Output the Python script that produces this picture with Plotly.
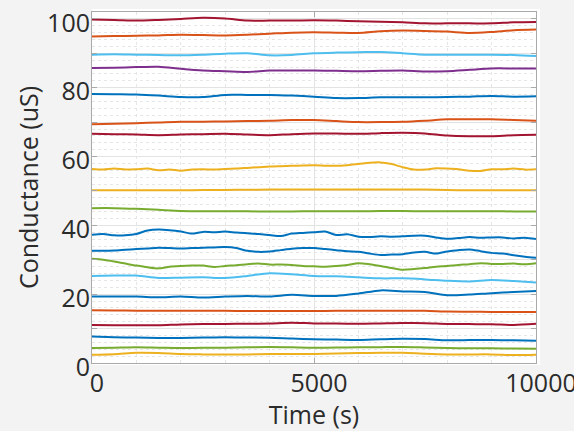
import plotly.graph_objects as go

# Sample times (s)
t500 = [0, 500, 1000, 1500, 2000, 2500, 3000, 3500, 4000, 4500, 5000,
        5500, 6000, 6500, 7000, 7500, 8000, 8500, 9000, 9500, 10000]
t250 = [0, 250, 500, 750, 1000, 1250, 1500, 1750, 2000, 2250, 2500,
        2750, 3000, 3250, 3500, 3750, 4000, 4250, 4500, 4750, 5000,
        5250, 5500, 5750, 6000, 6250, 6500, 6750, 7000, 7250, 7500,
        7750, 8000, 8250, 8500, 8750, 9000, 9250, 9500, 9750, 10000]

# Conductance traces (uS), bottom to top
ch01 = [2.4, 2.55, 2.95, 2.9, 2.6, 2.5, 2.45, 2.5, 2.6, 2.6, 2.6,
        2.75, 2.9, 2.95, 3.0, 2.7, 2.5, 2.5, 2.5, 2.3, 2.4]
ch02 = [4.35, 4.45, 4.55, 4.45, 4.35, 4.4, 4.45, 4.55, 4.65, 4.55, 4.45,
        4.5, 4.55, 4.6, 4.65, 4.5, 4.35, 4.3, 4.27, 4.2, 4.17]
ch03 = [7.7, 7.5, 7.4, 7.3, 7.3, 7.4, 7.45, 7.4, 7.35, 7.1, 6.9,
        6.8, 6.7, 6.9, 7.05, 6.95, 6.6, 6.65, 6.7, 6.6, 6.5]
ch04 = [11.05, 11.0, 10.95, 10.95, 11.2, 11.3, 11.35, 11.4, 11.5, 11.7, 11.5,
        11.45, 11.4, 11.5, 11.6, 11.55, 11.35, 11.3, 11.25, 11.05, 11.4]
ch05 = [15.3, 15.25, 15.2, 15.2, 15.2, 15.15, 15.15, 15.1, 15.1, 15.1, 15.1,
        15.15, 15.15, 15.2, 15.2, 15.2, 14.95, 14.9, 14.85, 14.8, 14.8]
ch06 = [19.3, 19.3, 19.3, 19.1, 19.3, 19.0, 19.3, 19.5, 19.3, 19.8, 19.5,
        19.5, 20.2, 21.1, 20.8, 20.6, 19.7, 19.9, 20.3, 20.6, 20.9]
ch07 = [25.3, 25.4, 25.4, 24.7, 24.8, 24.9, 24.7, 25.3, 26.1, 25.8, 25.3,
        25.2, 24.9, 24.6, 24.6, 24.3, 23.9, 23.7, 24.1, 23.8, 23.4]
ch08 = [30.3, 30.0, 29.5, 28.9, 28.3, 27.8, 27.5, 28.0, 28.2, 28.3, 28.3,
        27.9, 28.2, 28.4, 28.7, 28.9, 28.6, 28.6, 28.5, 28.2, 28.1,
        28.0, 28.2, 28.5, 29.0, 28.7, 28.2, 27.6, 27.1, 27.3, 27.6,
        28.0, 28.2, 28.5, 28.7, 29.0, 28.8, 28.8, 28.9, 28.7, 29.0]
ch09 = [32.6, 32.6, 32.7, 32.9, 33.1, 33.3, 33.5, 33.4, 33.3, 33.4, 33.5,
        33.6, 33.7, 33.4, 32.6, 32.3, 32.4, 32.8, 33.2, 33.4, 33.4,
        33.1, 32.8, 32.5, 32.3, 31.8, 31.4, 31.5, 31.6, 32.1, 32.3,
        31.8, 32.4, 32.8, 33.0, 32.5, 32.0, 31.8, 31.3, 30.9, 30.6]
ch10 = [37.3, 37.5, 37.1, 37.1, 37.5, 38.5, 38.8, 38.6, 38.2, 37.6, 38.1,
        38.0, 38.2, 37.9, 37.7, 37.5, 37.2, 36.9, 37.6, 37.8, 38.0,
        38.2, 37.2, 37.4, 36.7, 36.6, 36.8, 36.7, 36.8, 37.0, 37.0,
        36.5, 36.1, 36.3, 36.6, 36.4, 36.5, 36.5, 36.2, 36.4, 36.0]
ch11 = [45.0, 45.0, 44.8, 44.5, 44.2, 44.1, 44.1, 44.1, 44.0, 44.05, 44.1,
        44.1, 44.1, 44.15, 44.15, 44.1, 44.1, 44.1, 44.1, 44.05, 44.0]
ch12 = [50.2, 50.2, 50.2, 50.2, 50.2, 50.25, 50.3, 50.35, 50.4, 50.4, 50.4,
        50.4, 50.4, 50.4, 50.4, 50.4, 50.25, 50.2, 50.2, 50.2, 50.2]
ch13 = [56.4, 56.2, 56.5, 56.2, 56.3, 56.5, 56.0, 56.2, 55.9, 56.2, 56.3,
        56.2, 56.4, 56.5, 56.7, 56.9, 57.1, 57.2, 57.3, 57.4, 57.45,
        57.35, 57.3, 57.5, 57.8, 58.2, 58.3, 57.8, 56.9, 56.2, 56.2,
        56.6, 56.5, 56.3, 55.9, 55.8, 56.3, 56.3, 56.5, 56.2, 56.3]
ch14 = [66.6, 66.5, 66.4, 66.2, 66.4, 66.5, 66.6, 66.4, 66.2, 66.5, 66.7,
        66.7, 66.6, 66.8, 66.9, 66.7, 66.1, 65.9, 65.9, 66.2, 66.3]
ch15 = [69.4, 69.5, 69.7, 69.9, 70.1, 70.1, 70.2, 70.3, 70.4, 70.6, 70.6,
        70.3, 70.0, 70.0, 70.1, 70.4, 70.8, 70.8, 70.8, 70.6, 70.4]
ch16 = [78.2, 78.1, 78.0, 77.7, 77.3, 77.3, 77.9, 77.9, 77.9, 77.7, 77.4,
        77.0, 77.0, 77.2, 77.2, 77.2, 77.3, 77.4, 77.6, 77.4, 77.5]
ch17 = [85.7, 85.8, 86.0, 86.1, 85.5, 85.0, 84.8, 84.6, 85.0, 85.0, 85.0,
        84.9, 84.8, 84.9, 85.0, 84.7, 84.8, 85.2, 85.6, 85.6, 85.6]
ch18 = [89.6, 89.7, 89.6, 89.5, 89.4, 89.6, 89.9, 90.0, 89.4, 89.5, 90.0,
        90.2, 90.3, 90.4, 90.0, 89.6, 89.6, 89.6, 89.6, 89.5, 89.2]
ch19 = [94.9, 95.0, 95.1, 95.2, 95.4, 95.3, 95.2, 95.4, 95.7, 96.0, 96.1,
        96.0, 95.9, 96.4, 96.6, 96.5, 96.3, 95.9, 96.2, 96.7, 96.9]
ch20 = [99.8, 99.7, 99.5, 99.7, 100.0, 100.3, 100.1, 99.5, 99.5, 99.5, 99.6,
        99.5, 99.3, 99.2, 99.0, 98.7, 98.7, 98.7, 98.7, 99.0, 99.1]

y_tickvals = [0, 10, 20, 30, 40, 50, 60, 70, 80, 90, 100]
y_ticktext = ["0", "", "20", "", "40", "", "60", "", "80", "", "100"]
x_tickvals = [0, 5000, 10000]
x_ticktext = ["0", "5000", "10000"]

BLUE, ORANGE, YELLOW = "#0072BD", "#D95319", "#EDB120"
PURPLE, GREEN, LBLUE, DRED = "#7E2F8E", "#77AC30", "#4DBEEE", "#A2142F"

series = [
    (t500, ch01, YELLOW), (t500, ch02, GREEN), (t500, ch03, BLUE),
    (t500, ch04, DRED), (t500, ch05, ORANGE), (t500, ch06, BLUE),
    (t500, ch07, LBLUE), (t250, ch08, GREEN), (t250, ch09, BLUE),
    (t250, ch10, BLUE), (t500, ch11, GREEN), (t500, ch12, YELLOW),
    (t250, ch13, YELLOW), (t500, ch14, DRED), (t500, ch15, ORANGE),
    (t500, ch16, BLUE), (t500, ch17, PURPLE), (t500, ch18, LBLUE),
    (t500, ch19, ORANGE), (t500, ch20, DRED),
]

fig = go.Figure()
for t, y, c in series:
    fig.add_trace(go.Scatter(
        x=t, y=y, mode="lines",
        line=dict(color=c, width=2, shape="spline", smoothing=0.8),
        showlegend=False, hoverinfo="skip",
    ))

FONT = "Open Sans"
TEXT = "#2b2b2b"
axis_common = dict(
    showline=True, linecolor="#a9a9a9", linewidth=1, mirror="ticks",
    ticks="inside", ticklen=5, tickcolor="#a9a9a9",
    showgrid=True, gridcolor="#e3e3e3", gridwidth=1,
    zeroline=False, automargin=False, ticklabeloverflow="allow",
    tickfont=dict(family=FONT, size=25, color=TEXT),
)

fig.update_layout(
    template="none",
    width=574, height=431,
    margin=dict(l=92, r=38, t=12, b=68, pad=0),
    paper_bgcolor="#f3f3f3",
    plot_bgcolor="white",
    xaxis=dict(
        range=[0, 10000], tickvals=x_tickvals, ticktext=x_ticktext,
        minor=dict(dtick=1000, showgrid=True, gridcolor="#e6e6e6",
                   griddash="dot", ticks=""),
        title=dict(text="Time (s)", standoff=13,
                   font=dict(family=FONT, size=25, color=TEXT)),
        ticklabelshift=5,
        ticklabelstandoff=-2,
        **axis_common,
    ),
    yaxis=dict(
        range=[0, 102], tickvals=y_tickvals, ticktext=y_ticktext,
        minor=dict(dtick=2, showgrid=True, gridcolor="#e6e6e6",
                   griddash="dot", ticks=""),
        title=dict(text="Conductance (uS)", standoff=1,
                   font=dict(family=FONT, size=25, color=TEXT)),
        ticklabelstandoff=-4,
        ticklabelshift=4,
        **axis_common,
    ),
    shapes=[dict(
        type="rect", xref="paper", yref="paper",
        x0=0, x1=1.009, y0=-0.006, y1=1.0085,
        fillcolor="white", line=dict(width=0), layer="below",
    )],
)

fig.write_html("out.html")
